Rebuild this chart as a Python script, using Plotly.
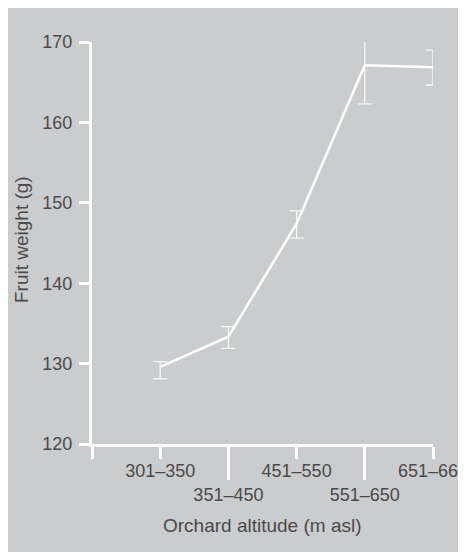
import plotly.graph_objects as go

# Data
categories = ["301–350", "351–450", "451–550", "551–650", "651–660"]
positions = [1, 2, 3, 4, 5]
fruit_weight = [129.6, 133.35, 147.4, 167.1, 166.85]
err_upper = [130.25, 134.6, 149.0, 170.3, 169.0]
err_lower = [128.1, 131.9, 145.6, 162.3, 164.65]
y_ticks = [120, 130, 140, 150, 160, 170]

plus = [u - m for u, m in zip(err_upper, fruit_weight)]
minus = [m - l for m, l in zip(fruit_weight, err_lower)]

OFF = 8  # page body margin
W, H = 466 - OFF, 552 - OFF
L, R, T, B = 92 - OFF, 466 - 433, 42 - OFF, 552 - 444
pw, ph = W - L - R, H - T - B

def px_x(p):
    return (p - OFF - L) / pw

def px_y(p):
    return (H + OFF - B - p) / ph

text_col = "#4a4a4a"
bg_col = "#cbcccd"
font_family = "Liberation Sans, Arial, sans-serif"

fig = go.Figure()
fig.add_trace(go.Scatter(
    x=positions, y=fruit_weight, mode="lines",
    line=dict(color="white", width=2.5),
    error_y=dict(type="data", symmetric=False, array=plus, arrayminus=minus,
                 color="rgba(255,255,255,0.85)", thickness=1.3, width=7),
    cliponaxis=False, showlegend=False, hoverinfo="skip",
))
# invisible trace to activate the second x axis
fig.add_trace(go.Scatter(x=[0, 5], y=[120, 120], xaxis="x2", mode="lines",
                         line=dict(width=0), showlegend=False, hoverinfo="skip"))

odd_vals = [0] + positions[0::2]
odd_text = [""] + categories[0::2]
even_vals = positions[1::2]
even_text = categories[1::2]

fig.update_layout(
    width=W, height=H,
    margin=dict(l=L, r=R, t=T, b=B, autoexpand=False),
    paper_bgcolor=bg_col,
    plot_bgcolor=bg_col,
    font=dict(family=font_family, size=18, color=text_col),
    xaxis=dict(range=[0, 5], showgrid=False, zeroline=False,
               showline=True, linecolor="white", linewidth=3,
               tickmode="array", tickvals=odd_vals, ticktext=odd_text,
               ticks="outside", ticklen=12, tickwidth=3, tickcolor="white",
               ticklabeloverflow="allow", ticklabelstandoff=-4,
               tickfont=dict(size=18, color=text_col)),
    xaxis2=dict(range=[0, 5], overlaying="x", anchor="y", side="bottom",
                showgrid=False, zeroline=False, showline=False,
                tickmode="array", tickvals=even_vals, ticktext=even_text,
                ticks="outside", ticklen=35, tickwidth=3, tickcolor="white",
                ticklabeloverflow="allow", ticklabelstandoff=-1,
                tickfont=dict(size=18, color=text_col)),
    yaxis=dict(range=[120, 170], showgrid=False, zeroline=False,
               showline=True, linecolor="white", linewidth=3,
               tickmode="array", tickvals=y_ticks,
               ticks="outside", ticklen=10, tickwidth=3, tickcolor="white",
               ticklabelstandoff=3,
               tickfont=dict(size=18, color=text_col)),
    annotations=[
        dict(text="Orchard altitude (m asl)", xref="paper", yref="paper",
             x=px_x(262), y=px_y(525), showarrow=False,
             xanchor="center", yanchor="middle",
             font=dict(size=19, color=text_col)),
        dict(text="Fruit weight (g)", xref="paper", yref="paper",
             x=px_x(21), y=px_y(240), showarrow=False, textangle=-90,
             xanchor="center", yanchor="middle",
             font=dict(size=19, color=text_col)),
    ],
)

fig.write_html("out.html")
